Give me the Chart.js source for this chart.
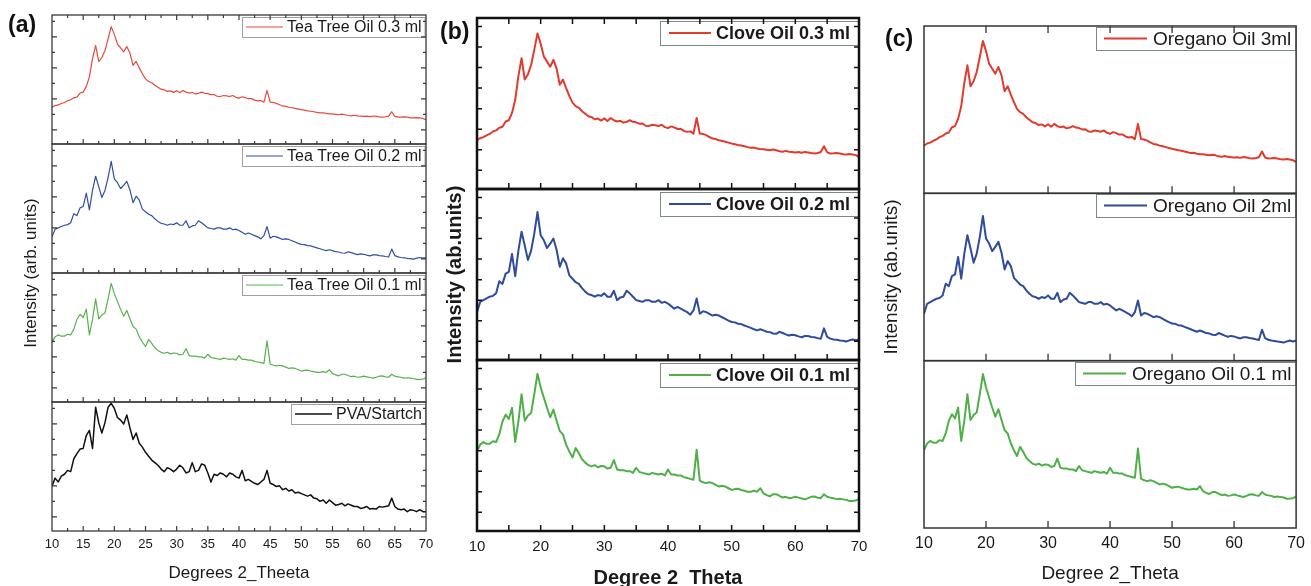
<!DOCTYPE html>
<html>
<head>
<meta charset="utf-8">
<script src="https://cdn.jsdelivr.net/npm/chart.js@4.4.1/dist/chart.umd.min.js"></script>
<style>
  body { margin: 0; background: #fff; width: 1311px; height: 586px; overflow: hidden; position: relative; }
  canvas { position: absolute; top: 0; }
</style>
</head>
<body>
<canvas id="chartA" width="440" height="586" style="left:0"></canvas>
<canvas id="chartB" width="440" height="586" style="left:440px"></canvas>
<canvas id="chartC" width="431" height="586" style="left:880px"></canvas>
<script>
// 2 theta grid (degrees)
const twoTheta = [
  10, 10.5, 11, 11.5, 12, 12.5, 13, 13.5, 14, 14.5,
  15, 15.5, 16, 16.5, 17, 17.5, 18, 18.5, 19, 19.5,
  20, 20.5, 21, 21.5, 22, 22.5, 23, 23.5, 24, 24.5,
  25, 25.5, 26, 26.5, 27, 27.5, 28, 28.5, 29, 29.5,
  30, 30.5, 31, 31.5, 32, 32.5, 33, 33.5, 34, 34.5,
  35, 35.5, 36, 36.5, 37, 37.5, 38, 38.5, 39, 39.5,
  40, 40.5, 41, 41.5, 42, 42.5, 43, 43.5, 44, 44.5,
  45, 45.5, 46, 46.5, 47, 47.5, 48, 48.5, 49, 49.5,
  50, 50.5, 51, 51.5, 52, 52.5, 53, 53.5, 54, 54.5,
  55, 55.5, 56, 56.5, 57, 57.5, 58, 58.5, 59, 59.5,
  60, 60.5, 61, 61.5, 62, 62.5, 63, 63.5, 64, 64.5,
  65, 65.5, 66, 66.5, 67, 67.5, 68, 68.5, 69, 69.5,
  70
];

// intensities, read as % of each stacked row height
const oil03 = [
  28.5, 29.8, 30.3, 31.4, 32.2, 33.6, 34.3, 35.8, 36.4, 39.5,
  40.2, 44.5, 52, 66, 76.5, 64, 67, 72.5, 81.5, 91,
  85, 77.5, 74.5, 71.5, 75.5, 70.5, 61, 64, 59, 54.5,
  50.5, 48.5, 47.5, 45.5, 44, 42.5, 42, 40.8, 41.2, 40,
  41.3, 39.8, 41.5, 40.2, 39.5, 39.9, 38.8, 39.3, 40.2, 39.3,
  39, 38.2, 38.3, 37, 36.8, 37.6, 37.3, 36.8, 37.6, 36.2,
  35.6, 36.6, 36, 35.1, 35.2, 34, 33.4, 33.7, 32.4, 41.5,
  32.4, 32.2, 31.5, 30.4, 29.5, 29.2, 28.5, 28.1, 27.6, 27.1,
  26.6, 26.2, 25.7, 25.4, 25, 24.5, 24.1, 24.2, 23.7, 23.4,
  23.3, 23, 22.7, 23.1, 22.7, 22.1, 21.8, 22.3, 21.8, 21.6,
  21.4, 21.6, 21.2, 21.7, 21.4, 21, 20.8, 21.1, 21.6, 25,
  21.4, 20.8, 20.9, 21.1, 20.8, 20.3, 20.2, 20.5, 20.2, 19.8,
  18.7
];
const oil02 = [
  28, 34, 35, 36, 37, 37.5, 39, 46, 44.5, 50.5,
  51.5, 62, 49, 64, 75, 67, 58.5, 64, 74, 86.5,
  73, 70, 65.5, 68, 71, 64.5, 54.5, 59.5, 56.5, 49.5,
  47.5, 45.5, 44.5, 42, 40, 38.5, 38, 37, 38, 37.5,
  39, 37, 37, 40.5, 35, 36.5, 37, 40.5, 39, 37,
  35, 34.5, 34, 35, 35, 34, 34, 35, 33.5, 34,
  33, 31.5, 30, 31, 30, 29, 28, 26.5, 29, 36,
  27, 28.5, 28, 27, 26, 26.5, 26, 25, 24, 23,
  22.2, 22, 21.2, 21, 20.2, 19.5, 18.8, 18, 17.3, 18,
  17.3, 16.5, 16.3, 15.5, 15.3, 16.5, 15.8, 15, 14.3, 14.8,
  14.5, 13.8, 13.3, 14, 14, 13.5, 13.3, 12.8, 12.4, 18.5,
  13.5, 12.5, 12, 11.8, 11.4, 11.2, 10.8, 11.5, 12, 11.5,
  12
];
const oil01 = [
  46.5, 50.5, 52, 51, 51, 52.5, 52, 56.5, 64, 68,
  65.5, 72, 52, 64, 80, 64.5, 67.5, 69, 80, 92,
  84, 78, 72, 66.5, 71, 64.5, 58.5, 56.5, 50.5, 46.5,
  43, 48.5, 45.5, 42, 40, 38.5, 37.8, 38.5, 37.3, 38,
  37.8, 36.5, 37, 41.5, 36, 35.5, 35.5, 35, 35, 34,
  37, 34.5, 34, 33.5, 33, 34, 33.5, 33, 33.5, 32.5,
  36, 33, 33, 32.5, 32.5, 31.5, 31, 30.5, 30, 47.5,
  29.5, 28.5, 28, 28.5, 28, 27, 26, 26.5, 26, 25,
  24, 24.5, 24.7, 24, 23.5, 23, 23, 23.5, 23, 25,
  22, 21, 20.3, 21.5, 21.5, 20.5, 19.6, 20, 19.2, 19.5,
  20, 19.5, 19, 18.5, 19.2, 20, 20.2, 19.5, 19.2, 21.5,
  20, 19.5, 19.2, 18.5, 18.8, 18.5, 18.2, 17.5, 17.6, 17.8,
  18.8
];
const pvaStarch = [
  34.5, 41, 38, 42.5, 44, 47, 46, 56, 60, 63.5,
  64, 74, 78, 64, 96, 84, 76, 84, 96, 99,
  95, 88, 86, 83, 90, 80, 71, 76, 68, 65,
  61, 58, 55, 53, 51, 48, 46, 49, 48, 46,
  48, 51, 49, 45, 46, 53, 46, 47, 52, 51,
  45, 38, 44, 43, 45, 44, 42, 45, 44, 42,
  41, 47, 39, 40, 38.5, 37, 36, 38, 40, 47,
  37, 36, 34.5, 35, 32, 33, 31, 32, 29.5, 30,
  29, 28, 27, 28, 25.5, 25, 23, 24, 21.5, 24,
  22, 20, 20.5, 21.5, 19.5, 21, 20, 19, 19, 17.5,
  18, 19, 17, 17.5, 17, 19, 18.5, 19, 19.5, 25.5,
  19, 17, 16.5, 17, 15, 16.5, 16, 15, 16.5, 15,
  15
];

const teaTreeLabels = ['Tea Tree Oil 0.3 ml', 'Tea Tree Oil 0.2 ml', 'Tea Tree Oil 0.1 ml', 'PVA/Startch'];
const cloveLabels = ['Clove Oil 0.3 ml', 'Clove Oil 0.2 ml', 'Clove Oil 0.1 ml'];
const oreganoLabels = ['Oregano Oil 3ml', 'Oregano Oil 2ml', 'Oregano Oil 0.1 ml'];

const xTickLabelsA = [10, 15, 20, 25, 30, 35, 40, 45, 50, 55, 60, 65, 70];
const xTickLabelsBC = [10, 20, 30, 40, 50, 60, 70];
const xMarksA = [12.5, 15, 17.5, 20, 22.5, 25, 27.5, 30, 32.5, 35, 37.5, 40, 42.5, 45, 47.5, 50, 52.5, 55, 57.5, 60, 62.5, 65, 67.5];
const xMarksB = [15, 20, 25, 30, 35, 40, 45, 50, 55, 60, 65];
const xMarksC = [20, 30, 40, 50, 60];
const yMarks = [11, 23, 35, 47, 59, 71, 83, 95];

const FONT = "'Liberation Sans', Arial, Helvetica, sans-serif";

function makeDecor(p) {
  return {
    id: 'decor',
    afterDatasetsDraw(chart) {
      const ctx = chart.ctx, xs = chart.scales.x, a = chart.chartArea;
      ctx.save();
      p.labels.forEach((label, i) => {
        const ys = chart.scales['y' + i];
        // legend box
        ctx.font = p.legFont;
        const tw = ctx.measureText(label).width;
        const w = p.legPadL + p.legLine + p.legGap + tw + p.legPadR;
        const bx = Math.round(a.right - p.legRight - w), by = Math.round(ys.top + p.legTop);
        ctx.fillStyle = '#fff';
        ctx.fillRect(bx, by, w, p.legH);
        ctx.strokeStyle = p.legBorder;
        ctx.lineWidth = 1;
        ctx.strokeRect(bx + 0.5, by + 0.5, w, p.legH);
        ctx.strokeStyle = p.colors[i];
        ctx.lineWidth = p.widths[i];
        ctx.beginPath();
        ctx.moveTo(bx + p.legPadL, by + p.legH / 2);
        ctx.lineTo(bx + p.legPadL + p.legLine, by + p.legH / 2);
        ctx.stroke();
        ctx.fillStyle = '#1a1a1a';
        ctx.textBaseline = 'middle';
        ctx.textAlign = 'left';
        ctx.fillText(label, bx + p.legPadL + p.legLine + p.legGap, by + p.legH / 2 + 1);

        // inward ticks
        ctx.strokeStyle = p.frameColor;
        ctx.lineWidth = p.tickWidth;
        ctx.beginPath();
        p.xMarks.forEach(v => {
          const px = xs.getPixelForValue(v);
          const len = v % p.xMajorEvery === 0 ? p.xMajorLen : p.xMinorLen;
          ctx.moveTo(px, ys.bottom);
          ctx.lineTo(px, ys.bottom - len);
          if (i === 0) {
            ctx.moveTo(px, ys.top);
            ctx.lineTo(px, ys.top + len);
          }
        });
        p.yMarks.forEach((v, k) => {
          const py = ys.getPixelForValue(v);
          const len = k % 2 === 0 ? p.yMajorLen : p.yMinorLen;
          ctx.moveTo(a.left, py);
          ctx.lineTo(a.left + len, py);
          ctx.moveTo(a.right, py);
          ctx.lineTo(a.right - len, py);
        });
        ctx.stroke();

        // row frame
        ctx.lineWidth = p.frameWidth;
        ctx.strokeRect(a.left, ys.top, a.right - a.left, ys.bottom - ys.top);
      });

      // panel letter
      ctx.fillStyle = '#111';
      ctx.font = 'bold 23px ' + FONT;
      ctx.textAlign = 'left';
      ctx.textBaseline = 'middle';
      ctx.fillText(p.tag, a.left + p.tagDx, p.tagY);

      // y axis title
      ctx.font = p.yTitleFont;
      ctx.fillStyle = '#1a1a1a';
      ctx.textAlign = 'center';
      ctx.translate(a.left + p.yTitleDx, (a.top + a.bottom) / 2);
      ctx.rotate(-Math.PI / 2);
      ctx.fillText(p.yTitle, 0, 0);
      ctx.restore();
    }
  };
}

function makePanel(p) {
  const scales = {
    x: {
      type: 'linear', position: 'bottom', min: 10, max: 70,
      afterBuildTicks: s => { s.ticks = p.xLabels.map(v => ({ value: v })); },
      afterFit: s => { s.height = p.xHeight; },
      grid: { display: false, drawTicks: false },
      border: { display: false },
      ticks: { color: '#1a1a1a', font: { family: FONT, size: p.tickSize }, padding: p.tickPad, maxRotation: 0, autoSkip: false },
      title: { display: true, text: p.xTitle, color: '#1a1a1a', font: p.xTitleFont, padding: { top: 0, bottom: p.xTitlePad } }
    }
  };
  p.labels.forEach((l, i) => {
    scales['y' + i] = { type: 'linear', position: 'right', stack: 'rows', stackWeight: 1, display: false, min: 0, max: 100 };
  });
  new Chart(document.getElementById(p.canvas), {
    type: 'line',
    data: {
      datasets: p.series.map((s, i) => ({
        label: p.labels[i],
        data: twoTheta.map((t, k) => ({ x: t, y: s[k] })),
        yAxisID: 'y' + i,
        borderColor: p.colors[i],
        borderWidth: p.widths[i],
        pointRadius: 0,
        tension: 0,
        borderJoinStyle: 'round'
      }))
    },
    options: {
      responsive: false,
      animation: false,
      devicePixelRatio: 1,
      events: [],
      layout: { padding: p.pad },
      plugins: { legend: { display: false }, tooltip: { enabled: false } },
      scales
    },
    plugins: [makeDecor(p)]
  });
}

makePanel({
  canvas: 'chartA', labels: teaTreeLabels, series: [oil03, oil02, oil01, pvaStarch],
  colors: ['#e8483a', '#2f4f9f', '#55b34b', '#111111'], widths: [1.2, 1.2, 1.2, 1.5],
  pad: { left: 52, right: 14, top: 15, bottom: 0 }, xHeight: 55,
  xLabels: xTickLabelsA, tickSize: 13, tickPad: 6,
  xTitle: 'Degrees 2_Theeta', xTitleFont: { family: FONT, size: 17, lineHeight: 1 }, xTitlePad: 4.5,
  yTitle: 'Intensity (arb. units)', yTitleFont: '17px ' + FONT, yTitleDx: -21,
  tag: '(a)', tagDx: -44, tagY: 26,
  frameColor: '#3a3a3a', frameWidth: 1.3, tickWidth: 1.2,
  xMarks: xMarksA, xMajorEvery: 5, xMajorLen: 5, xMinorLen: 3,
  yMarks: yMarks, yMajorLen: 5, yMinorLen: 3,
  legFont: '16px ' + FONT, legPadL: 4, legLine: 37, legGap: 4, legPadR: 3, legH: 20, legTop: 2, legRight: 1, legBorder: '#a0a0a0'
});

makePanel({
  canvas: 'chartB', labels: cloveLabels, series: [oil03, oil02, oil01],
  colors: ['#e23b2e', '#2e4b9c', '#4fb04a'], widths: [2, 2, 2],
  pad: { left: 37, right: 21, top: 18, bottom: 0 }, xHeight: 55,
  xLabels: xTickLabelsBC, tickSize: 15, tickPad: 7,
  xTitle: 'Degree 2_Theta', xTitleFont: { family: FONT, size: 20, weight: 'bold', lineHeight: 0.8 }, xTitlePad: 0,
  yTitle: 'Intensity (ab.units)', yTitleFont: 'bold 20px ' + FONT, yTitleDx: -22,
  tag: '(b)', tagDx: -37, tagY: 33,
  frameColor: '#111', frameWidth: 2.5, tickWidth: 1.5,
  xMarks: xMarksB, xMajorEvery: 5, xMajorLen: 6, xMinorLen: 6,
  yMarks: yMarks, yMajorLen: 5, yMinorLen: 5,
  legFont: 'bold 18px ' + FONT, legPadL: 9, legLine: 42, legGap: 5, legPadR: 8, legH: 24, legTop: 3, legRight: 1, legBorder: '#7a8a8a'
});

makePanel({
  canvas: 'chartC', labels: oreganoLabels, series: [oil03, oil02, oil01],
  colors: ['#e23b2e', '#2e4b9c', '#4fb04a'], widths: [2, 2, 2],
  pad: { left: 44, right: 10, top: 26, bottom: 0 }, xHeight: 58,
  xLabels: xTickLabelsBC, tickSize: 16, tickPad: 6,
  xTitle: 'Degree 2_Theta', xTitleFont: { family: FONT, size: 19, lineHeight: 1 }, xTitlePad: 2.5,
  yTitle: 'Intensity (ab.units)', yTitleFont: '19px ' + FONT, yTitleDx: -32,
  tag: '(c)', tagDx: -39, tagY: 40,
  frameColor: '#333', frameWidth: 1.5, tickWidth: 1.3,
  xMarks: xMarksC, xMajorEvery: 10, xMajorLen: 7, xMinorLen: 7,
  yMarks: [], yMajorLen: 0, yMinorLen: 0,
  legFont: '19px ' + FONT, legPadL: 8, legLine: 43, legGap: 6, legPadR: 4, legH: 23, legTop: 1, legRight: 1, legBorder: '#7a8a8a'
});
</script>
</body>
</html>
